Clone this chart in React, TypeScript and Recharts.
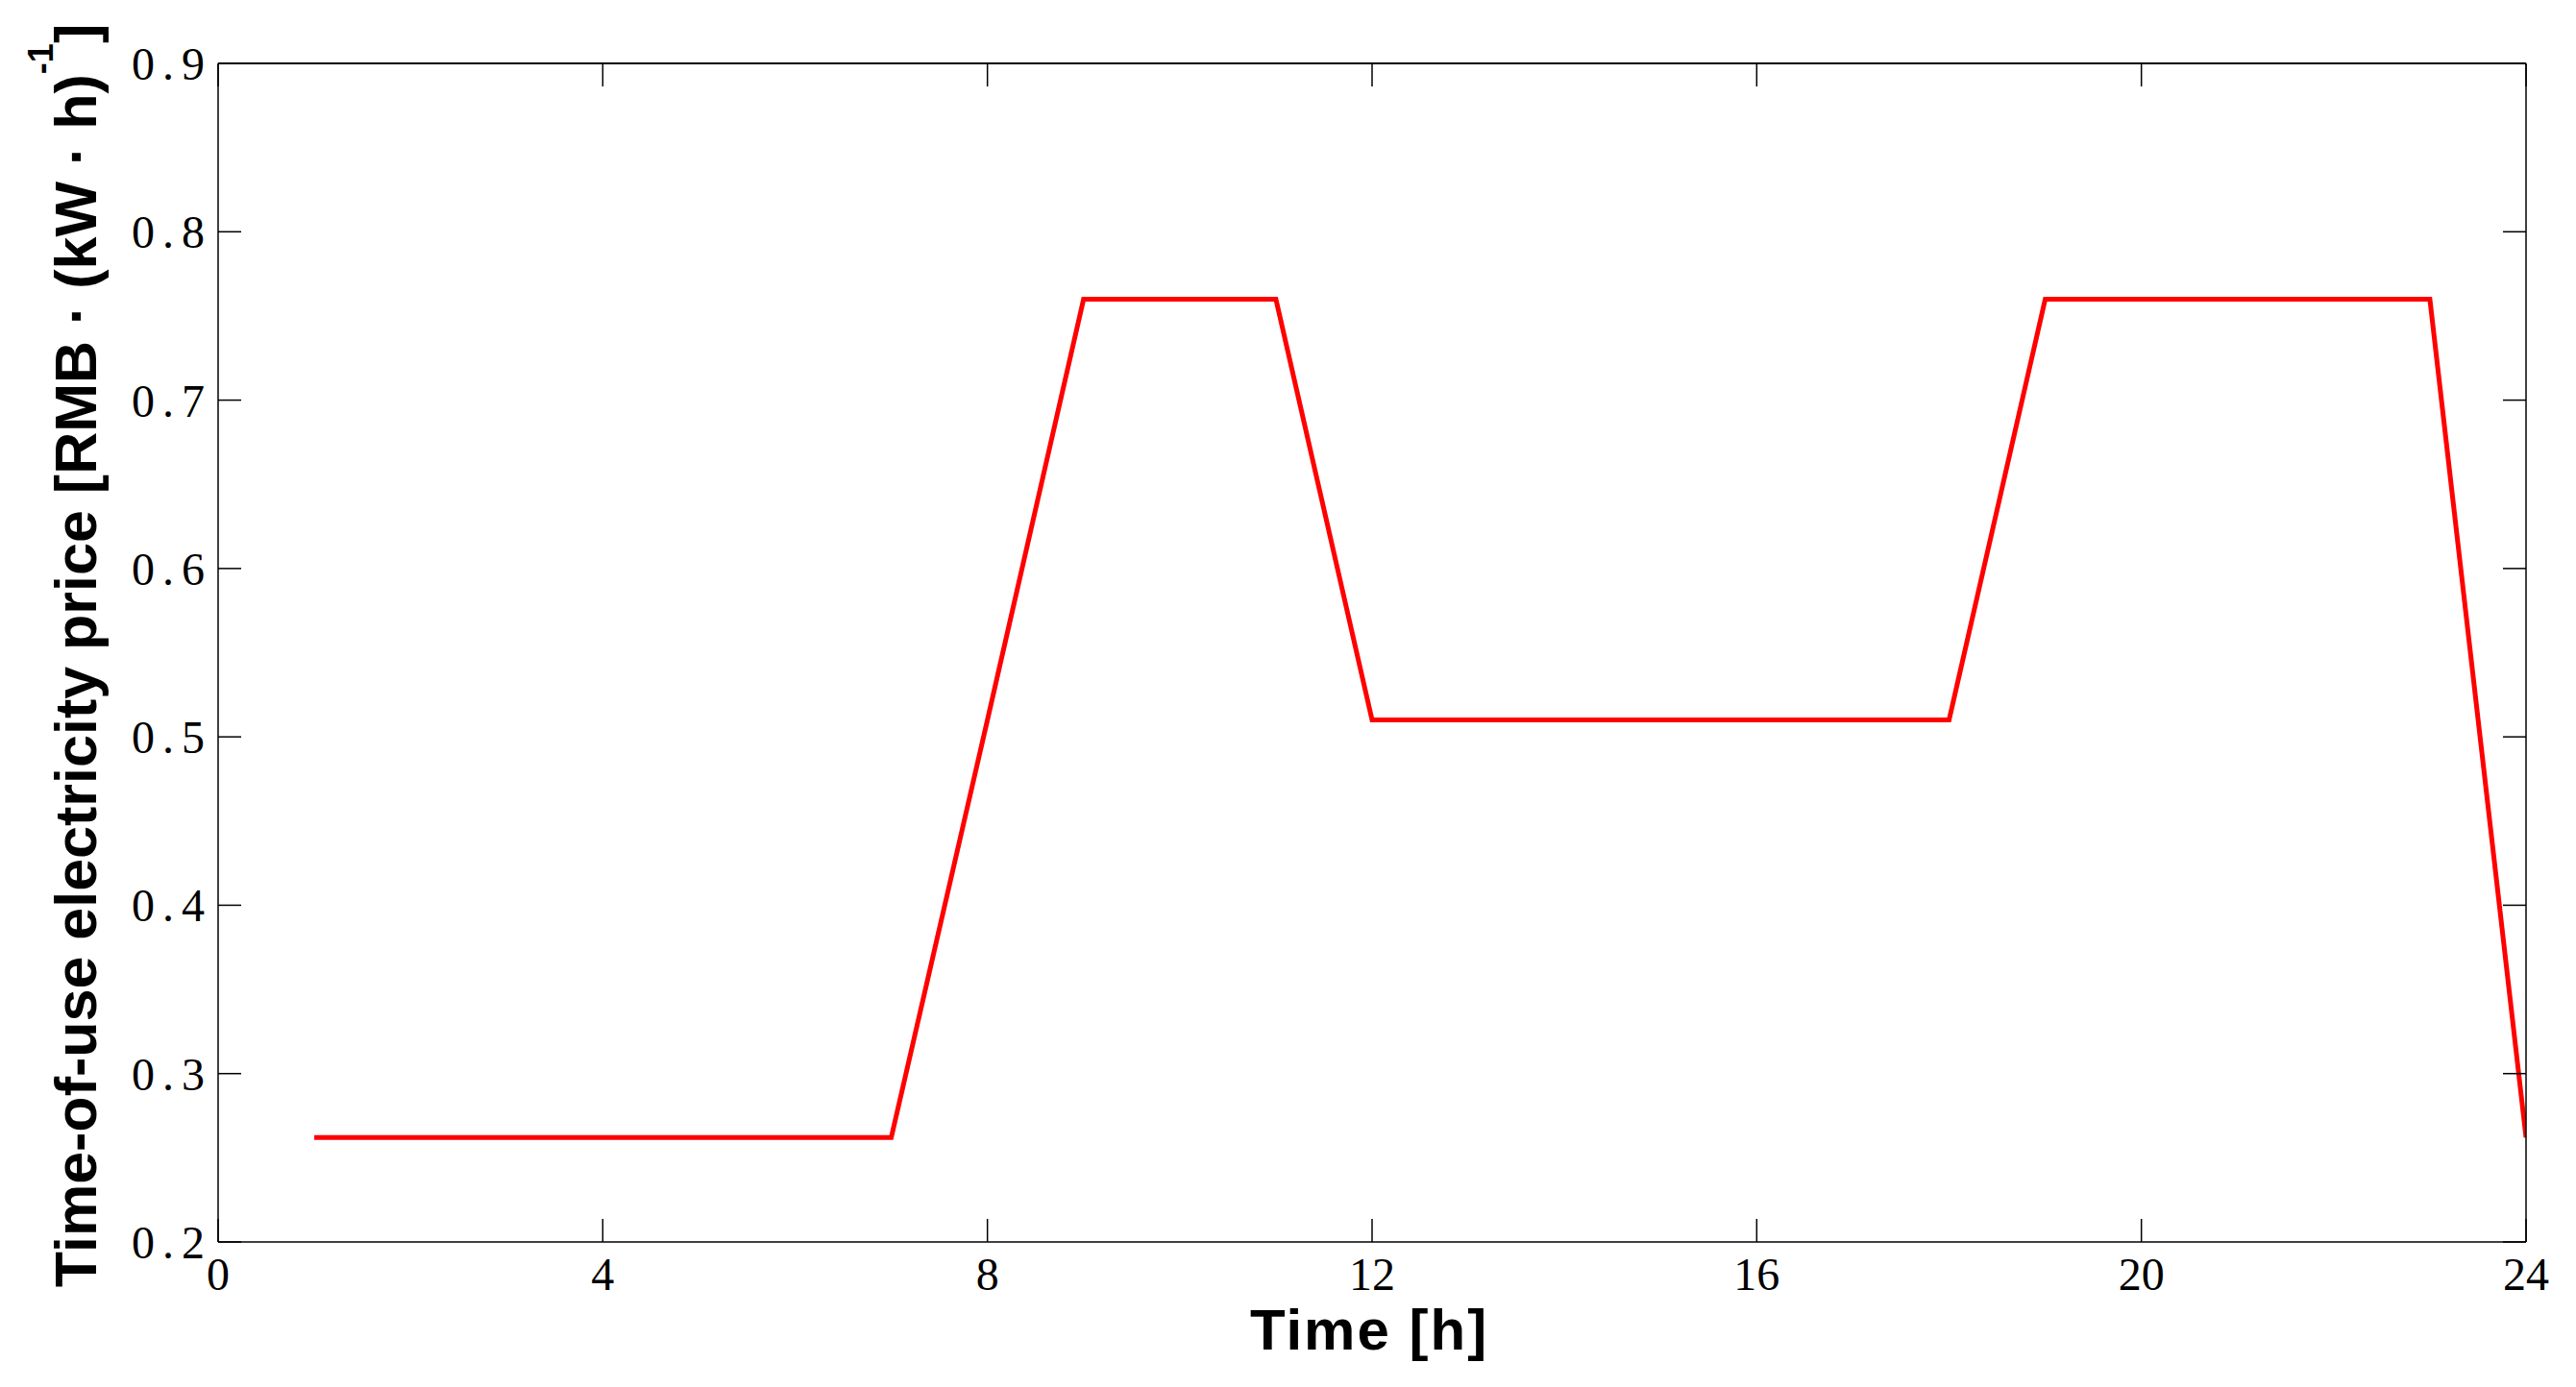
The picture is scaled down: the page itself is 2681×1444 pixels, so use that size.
import React from 'react';
import { LineChart, Line, XAxis, YAxis } from 'recharts';

const hours = [1, 2, 3, 4, 5, 6, 7, 8, 9, 10, 11, 12, 13, 14, 15, 16, 17, 18, 19, 20, 21, 22, 23, 24];
const prices = [0.262, 0.262, 0.262, 0.262, 0.262, 0.262, 0.262, 0.51, 0.76, 0.76, 0.76, 0.51, 0.51, 0.51, 0.51, 0.51, 0.51, 0.51, 0.76, 0.76, 0.76, 0.76, 0.76, 0.262];
const xTicks = [0, 4, 8, 12, 16, 20, 24];
const yTicks = [0.2, 0.3, 0.4, 0.5, 0.6, 0.7, 0.8, 0.9];

const data = hours.map((h, i) => ({ hour: h, price: prices[i] }));

const TICK_LEN = 24;
const serif = '"Liberation Serif", "DejaVu Serif", serif';
const sans = '"Liberation Sans", Arial, sans-serif';

const BottomTick = (props: any) => {
  const { x, y, payload } = props;
  return (
    <g>
      <line x1={x} y1={y} x2={x} y2={y - TICK_LEN} stroke="#000" strokeWidth={1.5} />
      <text x={x} y={y + 50} textAnchor="middle" fontFamily={serif} fontSize={48} fill="#000">
        {String(payload.value)}
      </text>
    </g>
  );
};

const TopTick = (props: any) => {
  const { x, y } = props;
  return <line x1={x} y1={y} x2={x} y2={y + TICK_LEN} stroke="#000" strokeWidth={1.5} />;
};

const LeftTick = (props: any) => {
  const { x, y, payload } = props;
  return (
    <g>
      <line x1={x} y1={y} x2={x + TICK_LEN} y2={y} stroke="#000" strokeWidth={1.5} />
      <text x={x - 6} y={y + 17} textAnchor="end" fontFamily={serif} fontSize={48} letterSpacing={8} fill="#000">
        {Number(payload.value).toFixed(1)}
      </text>
    </g>
  );
};

const RightTick = (props: any) => {
  const { x, y } = props;
  return <line x1={x} y1={y} x2={x - TICK_LEN} y2={y} stroke="#000" strokeWidth={1.5} />;
};

const YTitle = (props: any) => {
  const vb = props.viewBox || {};
  const bx = vb.x + vb.width - 127;
  const cy = vb.y + vb.height / 2 + 3;
  return (
    <text
      x={bx}
      y={cy}
      transform={`rotate(-90 ${bx} ${cy})`}
      textAnchor="middle"
      fontFamily={sans}
      fontWeight="bold"
      fontSize={61}
      fill="#000"
    >
      <tspan>Time-of-use electricity price [RMB · (kW · h)</tspan>
      <tspan dy={-45} fontSize={36}>-1</tspan>
      <tspan dy={45}>]</tspan>
    </text>
  );
};

const XTitle = (props: any) => {
  const vb = props.viewBox || {};
  const cx = vb.x + vb.width / 2 - 3;
  const by = vb.y + 112;
  return (
    <text x={cx} y={by} textAnchor="middle" fontFamily={sans} fontWeight="bold" fontSize={60} letterSpacing={2} fill="#000">
      Time [h]
    </text>
  );
};

export default function App() {
  return (
    <div style={{ width: 2665, height: 1428, background: '#fff' }}>
      <LineChart width={2665} height={1428} data={data} margin={{ top: 50, right: 40, bottom: 43, left: 19 }}>
        <XAxis
          xAxisId="bottom"
          dataKey="hour"
          type="number"
          domain={[0, 24]}
          ticks={xTicks}
          interval={0}
          allowDataOverflow
          height={100}
          tickSize={0}
          tickMargin={0}
          tickLine={false}
          axisLine={{ stroke: '#000', strokeWidth: 1.5 }}
          tick={<BottomTick />}
          label={<XTitle />}
        />
        <XAxis
          xAxisId="top"
          orientation="top"
          dataKey="hour"
          type="number"
          domain={[0, 24]}
          ticks={xTicks}
          interval={0}
          allowDataOverflow
          height={8}
          tickSize={0}
          tickMargin={0}
          tickLine={false}
          axisLine={{ stroke: '#000', strokeWidth: 2 }}
          tick={<TopTick />}
        />
        <YAxis
          yAxisId="left"
          type="number"
          domain={[0.2, 0.9]}
          ticks={yTicks}
          interval={0}
          allowDataOverflow
          width={200}
          tickSize={0}
          tickMargin={0}
          tickLine={false}
          axisLine={{ stroke: '#000', strokeWidth: 1.5 }}
          tick={<LeftTick />}
          label={<YTitle />}
        />
        <YAxis
          yAxisId="right"
          orientation="right"
          type="number"
          domain={[0.2, 0.9]}
          ticks={yTicks}
          interval={0}
          allowDataOverflow
          width={4}
          tickSize={0}
          tickMargin={0}
          tickLine={false}
          axisLine={{ stroke: '#000', strokeWidth: 1.5 }}
          tick={<RightTick />}
        />
        <Line
          xAxisId="bottom"
          yAxisId="left"
          type="linear"
          dataKey="price"
          stroke="#ff0000"
          strokeWidth={5}
          dot={false}
          isAnimationActive={false}
        />
      </LineChart>
    </div>
  );
}
